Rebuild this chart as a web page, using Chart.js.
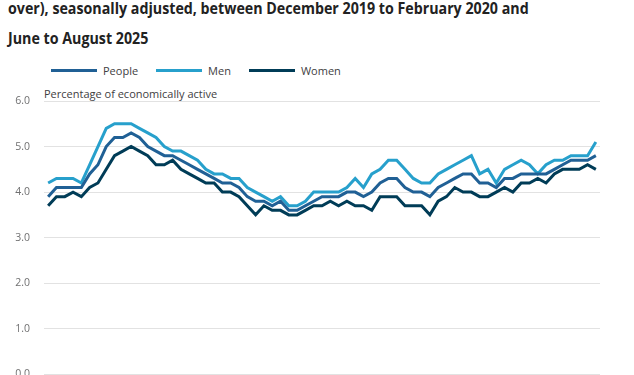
<!DOCTYPE html>
<html lang="en">
<head>
    <meta charset="UTF-8">
    <meta name="viewport" content="width=device-width, initial-scale=1.0">
    <title>Unemployment rates by sex</title>
    <script src="https://cdn.jsdelivr.net/npm/chart.js"></script>
    <style>
        body, html {
            margin: 0;
            padding: 0;
            width: 634px;
            height: 375px;
            overflow: hidden;
            background: #fff;
            font-family: "Open Sans", sans-serif;
        }
        .title {
            position: absolute;
            left: 8px;
            top: -7px;
            font-size: 16px;
            font-weight: 700;
            line-height: 30px;
            color: #222;
            white-space: nowrap;
            transform: scaleX(0.89);
            transform-origin: left top;
        }
        .legend {
            position: absolute;
            left: 51px;
            top: 63px;
            display: flex;
            font-size: 11px;
            color: #414042;
        }
        .legend span { display: flex; align-items: center; margin-right: 18px; }
        .legend i { display: inline-block; width: 46px; height: 3px; margin-right: 6px; }
        .axis-note {
            position: absolute;
            left: 44px;
            top: 86px;
            font-size: 11px;
            color: #414042;
        }
        .chart-box {
            position: absolute;
            left: 0;
            top: 0;
            width: 634px;
            height: 400px;
        }
    </style>
</head>
<body>
    <div class="title">over), seasonally adjusted, between December 2019 to February 2020 and<br>June to August 2025</div>
    <div class="legend" id="legend"></div>
    <div class="axis-note">Percentage of economically active</div>
    <div class="chart-box"><canvas id="unempChart"></canvas></div>

    <script>
        const people = [3.9, 4.1, 4.1, 4.1, 4.1, 4.4, 4.6, 5.0, 5.2, 5.2, 5.3, 5.2, 5.0, 4.9, 4.8, 4.8, 4.7,
                        4.6, 4.5, 4.4, 4.3, 4.2, 4.2, 4.1, 3.9, 3.8, 3.8, 3.7, 3.8, 3.6, 3.6, 3.7, 3.8, 3.9,
                        3.9, 3.9, 4.0, 4.0, 3.9, 4.0, 4.2, 4.3, 4.3, 4.1, 4.0, 4.0, 3.9, 4.1, 4.2, 4.3, 4.4,
                        4.4, 4.2, 4.2, 4.1, 4.3, 4.3, 4.4, 4.4, 4.4, 4.4, 4.5, 4.6, 4.7, 4.7, 4.7, 4.8];
        const men = [4.2, 4.3, 4.3, 4.3, 4.2, 4.6, 5.0, 5.4, 5.5, 5.5, 5.5, 5.4, 5.3, 5.2, 5.0, 4.9, 4.9,
                     4.8, 4.7, 4.5, 4.4, 4.4, 4.3, 4.3, 4.1, 4.0, 3.9, 3.8, 3.9, 3.7, 3.7, 3.8, 4.0, 4.0,
                     4.0, 4.0, 4.1, 4.3, 4.1, 4.4, 4.5, 4.7, 4.7, 4.5, 4.3, 4.2, 4.2, 4.4, 4.5, 4.6, 4.7,
                     4.8, 4.4, 4.5, 4.2, 4.5, 4.6, 4.7, 4.6, 4.4, 4.6, 4.7, 4.7, 4.8, 4.8, 4.8, 5.1];
        const women = [3.7, 3.9, 3.9, 4.0, 3.9, 4.1, 4.2, 4.5, 4.8, 4.9, 5.0, 4.9, 4.8, 4.6, 4.6, 4.7, 4.5,
                       4.4, 4.3, 4.2, 4.2, 4.0, 4.0, 3.9, 3.7, 3.5, 3.7, 3.6, 3.6, 3.5, 3.5, 3.6, 3.7, 3.7,
                       3.8, 3.7, 3.8, 3.7, 3.7, 3.6, 3.9, 3.9, 3.9, 3.7, 3.7, 3.7, 3.5, 3.8, 3.9, 4.1, 4.0,
                       4.0, 3.9, 3.9, 4.0, 4.1, 4.0, 4.2, 4.2, 4.3, 4.2, 4.4, 4.5, 4.5, 4.5, 4.6, 4.5];
        const yTicks = [0, 1, 2, 3, 4, 5, 6];

        // rolling three-month periods, Dec-Feb 2020 to Jun-Aug 2025
        const months = ["Jan", "Feb", "Mar", "Apr", "May", "Jun", "Jul", "Aug", "Sep", "Oct", "Nov", "Dec"];
        const periods = [];
        for (let i = 0; i < people.length; i++) {
            const end = i + 1; // months after Jan 2020
            periods.push(months[(end + 10) % 12] + "-" + months[end % 12] + " " + (2020 + Math.floor(end / 12)));
        }

        const series = [
            { label: 'People', data: people, color: '#206095' },
            { label: 'Men', data: men, color: '#27a0cc' },
            { label: 'Women', data: women, color: '#003c57' }
        ];

        document.getElementById('legend').innerHTML = series
            .map(s => `<span><i style="background:${s.color}"></i>${s.label}</span>`).join('');

        const ctx = document.getElementById('unempChart').getContext('2d');
        new Chart(ctx, {
            type: 'line',
            data: {
                labels: periods,
                datasets: series.map(s => ({
                    label: s.label,
                    data: s.data,
                    borderColor: s.color,
                    backgroundColor: s.color,
                    borderWidth: 3,
                    pointRadius: 0,
                    tension: 0
                }))
            },
            options: {
                responsive: true,
                maintainAspectRatio: false,
                animation: false,
                layout: { padding: { top: 101, right: 34, bottom: 25.7, left: 0 } },
                plugins: {
                    legend: { display: false },
                    tooltip: { enabled: false }
                },
                scales: {
                    x: { display: false, offset: true },
                    y: {
                        min: yTicks[0],
                        max: yTicks[yTicks.length - 1],
                        afterBuildTicks: scale => { scale.ticks = yTicks.map(v => ({ value: v })); },
                        afterFit: scale => { scale.width = 44; },
                        ticks: {
                            padding: 14,
                            color: '#707071',
                            font: { family: 'Open Sans', size: 10.5 },
                            callback: value => value.toFixed(1)
                        },
                        grid: { color: '#e2e2e2', drawTicks: false },
                        border: { display: false }
                    }
                }
            }
        });
    </script>
</body>
</html>
